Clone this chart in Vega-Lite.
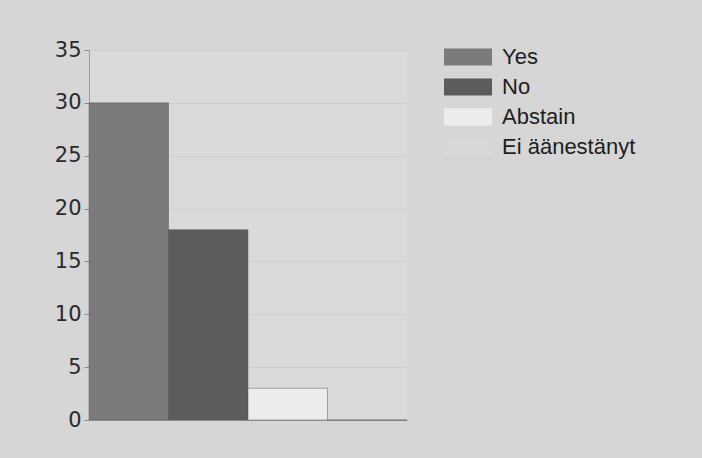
{
  "$schema": "https://vega.github.io/schema/vega-lite/v6.json",
  "width": 318,
  "height": 370,
  "autosize": {"type": "none"},
  "padding": {"left": 89, "top": 50, "right": 295, "bottom": 38},
  "background": "#d6d6d6",
  "config": {
    "view": {"stroke": null, "fill": "#dadada"}
  },
  "data": {
    "values": [
      {"answer": "Yes", "votes": 30},
      {"answer": "No", "votes": 18},
      {"answer": "Abstain", "votes": 3},
      {"answer": "Ei äänestänyt", "votes": 0}
    ]
  },
  "mark": {"type": "bar", "stroke": "#5a5a5a", "strokeWidth": 0.5},
  "encoding": {
    "x": {
      "field": "answer",
      "type": "nominal",
      "sort": ["Yes", "No", "Abstain", "Ei äänestänyt"],
      "scale": {"paddingInner": 0, "paddingOuter": 0},
      "axis": {"title": null, "labels": false, "ticks": false, "domain": true, "domainColor": "#9a9a9a", "grid": false}
    },
    "y": {
      "field": "votes",
      "type": "quantitative",
      "scale": {"domain": [0, 35], "nice": false},
      "axis": {
        "title": null,
        "values": [0, 5, 10, 15, 20, 25, 30, 35],
        "labelFont": "DejaVu Sans",
        "labelFontSize": 21,
        "labelColor": "#2a2a2a",
        "labelPadding": 3,
        "tickSize": 5,
        "tickColor": "#8a8a8a",
        "domainColor": "#9a9a9a",
        "grid": true,
        "gridColor": "#c4c4c4",
        "gridOpacity": 0.5
      }
    },
    "color": {
      "field": "answer",
      "type": "nominal",
      "sort": ["Yes", "No", "Abstain", "Ei äänestänyt"],
      "scale": {
        "domain": ["Yes", "No", "Abstain", "Ei äänestänyt"],
        "range": ["#7b7b7b", "#5c5c5c", "#ececec", "#d8d8d8"]
      },
      "legend": {
        "title": null,
        "orient": "none",
        "legendX": 368,
        "legendY": -4,
        "symbolType": "M-2.4,-0.85L2.4,-0.85L2.4,0.85L-2.4,0.85Z",
        "symbolSize": 400,
        "symbolStrokeWidth": 0,
        "labelFont": "Liberation Sans",
        "labelFontSize": 22,
        "labelColor": "#1e1e1e",
        "labelOffset": 23,
        "rowPadding": 8,
        "labelLimit": 250
      }
    }
  }
}
